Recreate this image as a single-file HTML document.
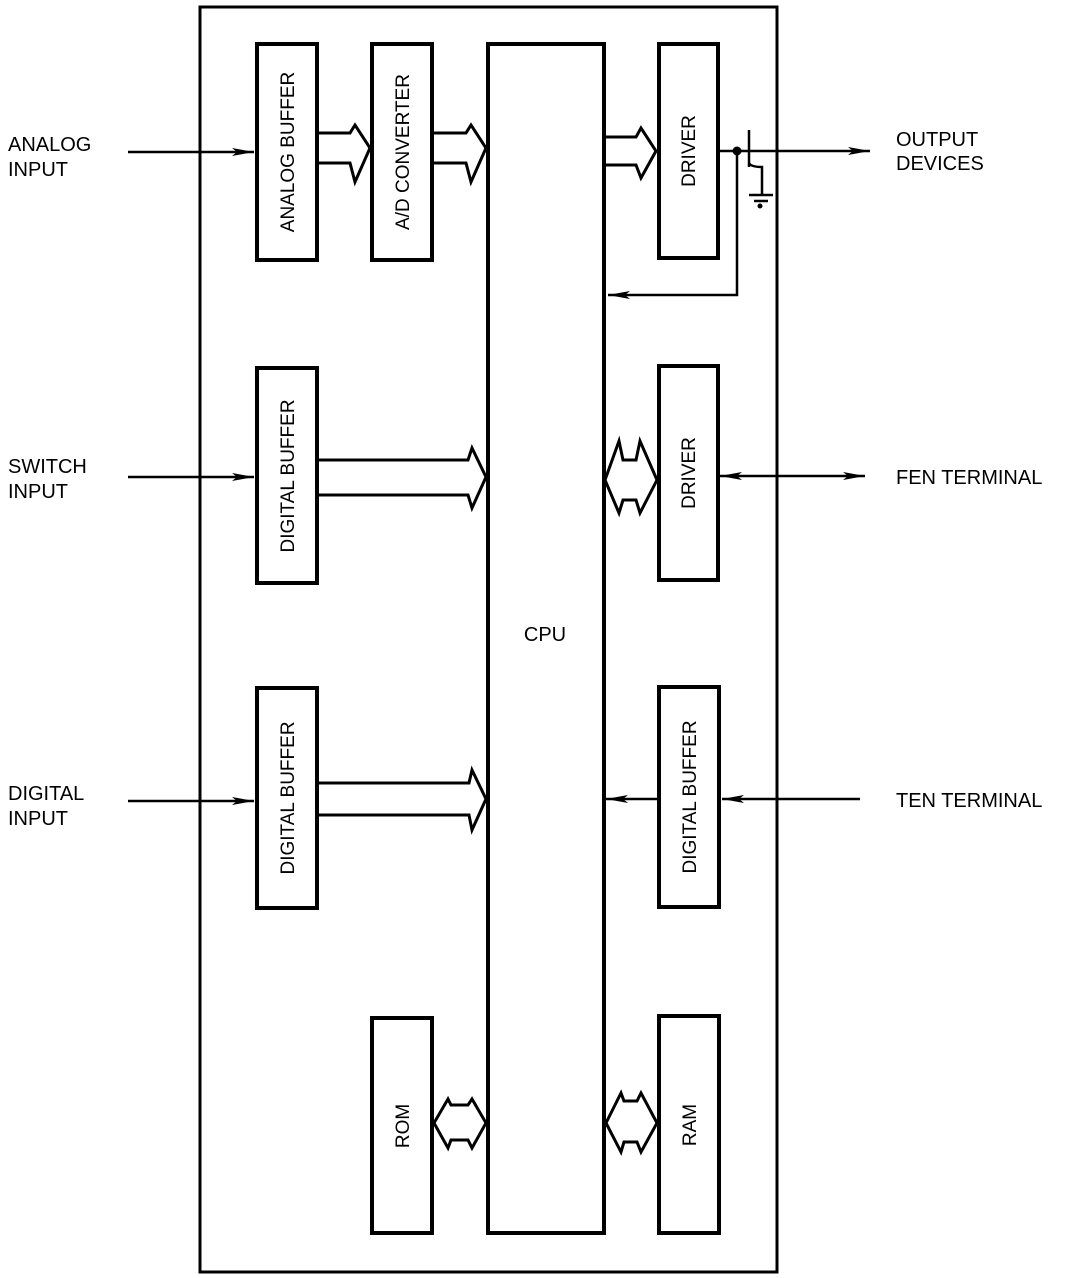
<!DOCTYPE html>
<html><head><meta charset="utf-8"><style>
html,body{margin:0;padding:0;background:#fff;}
svg{display:block;}
text{font-family:"Liberation Sans",Arial,sans-serif;fill:#000;}
</style></head><body>
<svg width="1072" height="1278" viewBox="0 0 1072 1278" xmlns="http://www.w3.org/2000/svg">
<defs>
<marker id="ah" markerWidth="24" markerHeight="10" refX="22" refY="5" orient="auto" markerUnits="userSpaceOnUse">
<path d="M0,1 L22,5 L0,9 L5,5 Z" fill="#000"/>
</marker>
<marker id="ahs" markerWidth="24" markerHeight="10" refX="2" refY="5" orient="auto" markerUnits="userSpaceOnUse">
<path d="M24,1 L2,5 L24,9 L19,5 Z" fill="#000"/>
</marker>
</defs>
<g fill="none" stroke="#000">
<!-- outer -->
<rect x="200" y="7" width="577" height="1265" stroke-width="3"/>
<!-- boxes -->
<g stroke-width="4">
<rect x="257" y="44" width="60" height="216"/>
<rect x="372" y="44" width="60" height="216"/>
<rect x="488" y="44" width="116" height="1189"/>
<rect x="659" y="44" width="59" height="214"/>
<rect x="257" y="368" width="60" height="215"/>
<rect x="659" y="366" width="59" height="214"/>
<rect x="257" y="688" width="60" height="220"/>
<rect x="659" y="687" width="60" height="220"/>
<rect x="372" y="1018" width="60" height="215"/>
<rect x="659" y="1016" width="60" height="217"/>
</g>
<!-- block arrows -->
<g stroke-width="3" stroke-linejoin="miter">
<path d="M318,133 H350 L355,125 L370,148 L355,182 L350,163 H318"/>
<path d="M433,133 H466 L471,125 L486,148 L471,182 L466,163 H433"/>
<path d="M605,137 H636 L641,128 L656,151 L641,178 L636,165 H605"/>
<path d="M318,460 H468 L472,448 L486,477 L472,508 L468,495 H318"/>
<path d="M318,783 H469 L472,770 L486,799 L472,830 L469,815 H318"/>
<path d="M605,480 L619,441 L623,460 H636 L640,441 L657,480 L640,513 L636,500 H623 L619,513 Z"/>
<path d="M606,1123 L621,1093 L624,1101 H637 L641,1093 L657,1123 L641,1152 L637,1142 H624 L621,1152 Z"/>
<path d="M434,1123 L448,1099 L451,1105 H468 L472,1099 L486,1123 L472,1148 L468,1140 H451 L448,1148 Z"/>
</g>
<!-- thin lines -->
<g stroke-width="2.5">
<line x1="128" y1="152" x2="254" y2="152" marker-end="url(#ah)"/>
<line x1="128" y1="477" x2="254" y2="477" marker-end="url(#ah)"/>
<line x1="128" y1="801" x2="254" y2="801" marker-end="url(#ah)"/>
<line x1="719" y1="151" x2="870" y2="151" marker-end="url(#ah)"/>
<polyline points="737,151 737,295 608,295" marker-end="url(#ah)"/>
<line x1="749" y1="130" x2="749" y2="167"/>
<path d="M749,163 Q751,167 762,167 L762,195"/>
<line x1="749" y1="195" x2="773" y2="195"/>
<line x1="754" y1="201" x2="768" y2="201"/>
<line x1="720" y1="476" x2="865" y2="476" marker-start="url(#ahs)" marker-end="url(#ah)"/>
<line x1="860" y1="799" x2="722" y2="799" marker-end="url(#ah)"/>
<line x1="657" y1="799" x2="606" y2="799" marker-end="url(#ah)"/>
</g>
</g>
<circle cx="737" cy="151" r="4.5" fill="#000"/>
<circle cx="760" cy="206" r="2.5" fill="#000"/>
<!-- labels -->
<g font-size="20">
<text x="8" y="151">ANALOG</text><text x="8" y="176">INPUT</text>
<text x="8" y="473">SWITCH</text><text x="8" y="498">INPUT</text>
<text x="8" y="800">DIGITAL</text><text x="8" y="825">INPUT</text>
<text x="896" y="146">OUTPUT</text><text x="896" y="170">DEVICES</text>
<text x="896" y="484">FEN TERMINAL</text>
<text x="896" y="807">TEN TERMINAL</text>
<text x="545" y="641" text-anchor="middle">CPU</text>
</g>
<g font-size="19" text-anchor="middle">
<text transform="translate(294,152) rotate(-90)">ANALOG BUFFER</text>
<text transform="translate(409,152) rotate(-90)">A/D CONVERTER</text>
<text transform="translate(695,151) rotate(-90)">DRIVER</text>
<text transform="translate(294,476) rotate(-90)">DIGITAL BUFFER</text>
<text transform="translate(695,473) rotate(-90)">DRIVER</text>
<text transform="translate(294,798) rotate(-90)">DIGITAL BUFFER</text>
<text transform="translate(696,797) rotate(-90)">DIGITAL BUFFER</text>
<text transform="translate(409,1126) rotate(-90)">ROM</text>
<text transform="translate(696,1125) rotate(-90)">RAM</text>
</g>
</svg>
</body></html>
